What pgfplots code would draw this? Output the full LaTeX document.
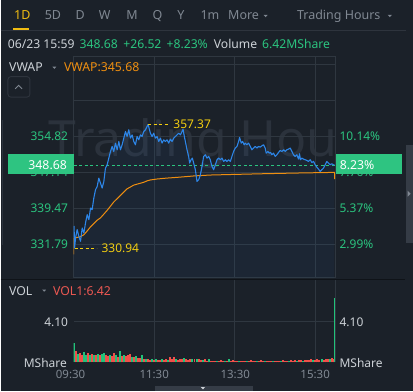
\documentclass[border=0pt]{standalone}
\usepackage{pgfplots}
\pgfplotsset{compat=1.18}
\usepackage{pgfplotstable}
\usepackage{fontspec}
\setmainfont{Noto Sans}
\definecolor{bg}{HTML}{1B2129}
\definecolor{gridc}{HTML}{2F3740}
\definecolor{sepc}{HTML}{2E343D}
\definecolor{darksep}{HTML}{0F1318}
\definecolor{lighttxt}{HTML}{CDD2D7}
\definecolor{greytxt}{HTML}{808892}
\definecolor{greenc}{HTML}{2BC47F}
\definecolor{greenbar}{HTML}{22C27A}
\definecolor{greenbox}{HTML}{2EC481}
\definecolor{redc}{HTML}{EC5852}
\definecolor{redbar}{HTML}{F0504A}
\definecolor{orangec}{HTML}{EE8E10}
\definecolor{yel}{HTML}{F2CD10}
\definecolor{ytab}{HTML}{F0BC12}
\definecolor{bluec}{HTML}{2D86E8}
\definecolor{wm}{HTML}{2B323C}
\definecolor{tabc}{HTML}{353C46}
\newcommand{\fs}[1]{\fontsize{#1}{#1}\selectfont}

\pgfplotstableread{
t p
0 333.5
0.8 335.6
1.5 330.94
3.0 333.11
5.4 334.88
7.9 333.46
10.4 332.39
12.9 335.24
15.4 334.17
17.8 336.30
20.3 338.08
22.8 337.01
25.3 339.50
27.7 339.15
30.2 341.64
32.7 343.41
35.2 344.12
37.6 345.90
40.1 344.83
42.6 343.77
45.1 345.19
47.5 348.03
50.0 348.74
52.5 350.16
55.0 351.59
57.4 352.65
59.9 351.59
62.4 353.36
64.9 351.94
67.4 353.72
69.8 351.94
72.3 353.01
74.8 354.43
77.3 355.85
79.7 354.78
82.2 356.21
84.7 354.43
87.2 355.14
89.6 353.72
92.1 353.01
94.6 354.78
97.1 354.07
99.5 355.14
102.0 354.78
104.5 355.85
107.0 356.21
109.4 356.92
110.9 357.37
114.4 355.49
116.9 354.78
119.3 355.49
121.8 354.43
124.3 354.78
126.8 353.72
129.3 354.43
131.7 353.36
134.2 354.07
136.7 353.72
139.2 354.07
141.6 353.36
144.1 354.22
146.6 353.72
149.1 354.43
151.5 354.78
154.0 355.14
156.5 355.49
159.0 355.14
161.4 355.85
162.9 356.35
164.9 354.78
166.9 353.36
168.9 351.94
171.3 350.52
172.8 349.10
174.8 349.81
176.8 350.16
178.8 349.10
181.3 347.68
183.7 345.19
186.2 345.54
188.7 346.61
191.2 348.39
193.6 350.52
196.1 350.88
198.6 350.16
201.1 350.52
203.5 349.81
206.0 348.39
208.5 347.68
211.0 348.74
213.5 349.81
215.9 350.16
218.4 349.81
220.9 350.16
223.4 349.45
225.8 349.81
228.3 349.45
230.8 349.81
233.3 349.45
235.7 350.52
238.2 351.59
240.7 352.30
243.2 352.65
245.6 353.72
247.1 354.57
249.6 353.36
251.6 353.72
254.0 353.01
255.5 353.36
258.0 353.01
260.5 353.36
263.0 352.65
265.4 351.94
267.9 352.30
270.4 352.65
272.9 352.30
275.3 352.65
277.8 352.51
280.3 352.79
282.8 353.01
285.2 352.30
286.7 351.23
289.2 351.59
291.2 351.23
293.2 351.37
295.1 350.88
297.6 351.23
300.1 350.52
302.6 350.88
305.0 351.37
307.5 351.80
310.0 351.59
312.5 351.94
315.0 351.59
317.4 351.94
319.9 352.08
322.4 352.30
324.9 351.59
327.3 350.88
329.8 350.52
332.3 350.88
334.8 349.95
336.3 351.09
337.7 349.81
339.7 350.16
342.2 349.95
344.7 349.81
347.2 349.67
349.6 349.45
352.1 349.81
354.6 349.24
357.1 349.45
359.5 348.74
362.0 348.24
364.5 347.82
367.0 347.32
369.4 347.68
371.9 348.03
374.4 348.74
376.9 349.45
379.3 349.10
381.8 348.74
384.3 348.96
386.8 348.74
388.3 348.68
}\pricetab

\pgfplotstableread{
t v
0 329.6
0.5 333.1
5 333.2
10.4 333.4
15.4 333.8
20.3 334.6
25.3 335.5
30.2 336.2
35.2 336.9
40.1 337.4
45.1 338.2
50.0 339.0
55.0 339.9
59.9 340.8
64.9 341.5
69.8 342.2
74.8 342.9
79.7 343.6
84.7 344.0
89.6 344.4
94.6 344.6
99.5 344.8
104.5 345.0
109.4 345.3
114.4 345.5
124.3 345.7
139.2 345.9
154.0 346.05
178.8 346.35
203.5 346.55
230.8 346.65
280.3 346.82
329.8 346.97
386.8 347.11
388.3 347.11
388.5 345.68
}\vwaptab

\pgfplotstableread{
t v
0 1.95
6 0.9
15 1.05
18 0.8
24 0.7
30 0.8
36 0.9
42 0.85
45 0.95
54 0.8
63 0.7
69 1.15
75 0.8
87 0.55
93 0.6
102 0.7
108 0.3
117 0.3
123 0.3
132 0.3
141 0.25
153 0.3
165 0.45
177 0.3
183 0.35
192 0.2
201 0.35
213 0.1
225 0.15
231 0.3
246 0.15
258 0.1
273 0.1
285 0.1
297 0.1
309 0.1
321 0.15
333 0.15
342 0.15
357 0.2
369 0.3
381 0.3
}\volup

\pgfplotstableread{
t v
3 1.2
9 1.0
12 0.75
21 0.95
27 0.85
33 0.75
39 0.7
48 0.75
51 0.6
57 0.65
60 1.0
66 0.55
72 0.65
78 0.6
81 0.7
84 0.9
90 0.5
96 0.45
99 0.4
105 0.35
111 0.35
114 0.25
120 0.25
126 0.2
129 0.25
135 0.2
138 0.3
144 0.5
147 0.3
150 0.55
156 0.25
159 0.35
162 0.3
168 0.3
171 0.25
174 0.35
180 0.3
186 0.3
189 0.25
195 0.3
198 0.15
204 0.15
207 0.1
210 0.15
216 0.15
219 0.2
222 0.1
228 0.1
234 0.15
237 0.2
240 0.1
243 0.1
249 0.1
252 0.1
255 0.15
261 0.1
264 0.2
267 0.1
270 0.15
276 0.15
279 0.2
282 0.1
288 0.15
291 0.1
294 0.15
300 0.15
303 0.1
306 0.15
312 0.2
315 0.15
318 0.1
324 0.2
327 0.15
330 0.2
336 0.2
339 0.25
345 0.2
348 0.25
351 0.2
354 0.3
360 0.25
363 0.3
366 0.2
372 0.25
375 0.3
378 0.35
384 0.4
387 0.35
}\voldown

\begin{document}
\begin{tikzpicture}[x=1pt,y=1pt]
% background
\fill[bg] (0,0) rectangle (413,392);

% top tab bar
\begin{scope}[every node/.style={anchor=base west, inner sep=0pt, font=\fs{12.5}, text=greytxt}]
\node[text=ytab] at (13.3,372) {1D};
\node at (44,372) {5D};
\node at (75,372) {D};
\node at (98.3,372) {W};
\node at (125.7,372) {M};
\node at (152,372) {Q};
\node at (176.7,372) {Y};
\node at (200,372) {1m};
\node at (227.7,372) {More};
\node at (296.7,372) {Trading Hours};
\end{scope}
\fill[greytxt] (263.3,377.2) -- (267.5,377.2) -- (265.4,374.8) -- cycle;
\fill[greytxt] (387.7,377.2) -- (391.9,377.2) -- (389.8,374.8) -- cycle;
\fill[ytab] (12,362.3) rectangle (28,364);
\draw[sepc, line width=0.8pt] (0,361.3) -- (406,361.3);

% info line
\begin{scope}[every node/.style={anchor=base west, inner sep=0pt, font=\fs{12.2}}]
\node[text=lighttxt] at (7,343.3) {06/23 15:59};
\node[text=greenc] at (79,343.3) {348.68};
\node[text=greenc] at (122.7,343.3) {+26.52};
\node[text=greenc] at (166,343.3) {+8.23\%};
\node[text=lighttxt] at (213.3,343.3) {Volume};
\node[text=greenc] at (261.7,343.3) {6.42MShare};
\end{scope}

% watermark
\begin{scope}
\clip (0,0) rectangle (336,392);
\node[anchor=base west, inner sep=0pt, font=\fs{50}, text=wm] at (48,235) {Trading Hours};
\end{scope}

% left edge strip
\draw[wm, line width=1.2pt] (1.5,147) -- (1.5,272);

% main price chart
\begin{axis}[
  at={(73pt,114pt)}, anchor=south west, scale only axis,
  width=262.5pt, height=221.3pt,
  xmin=0, xmax=390, ymin=324.65, ymax=371.84,
  xtick={120,240,360},
  ytick={331.79,339.47,347.14,354.82,362.50,370.17},
  xticklabels={}, yticklabels={}, major tick length=0pt,
  grid=major, major grid style={draw=gridc, line width=0.8pt},
  axis line style={draw=gridc, line width=0.8pt},
  no markers,
]
\addplot[draw=none, fill=bluec, fill opacity=0.06] table[x=t,y=p] {\pricetab} \closedcycle;
\addplot[greenc, dash pattern=on 3pt off 2.5pt, line width=0.9pt] coordinates {(0,348.68) (390,348.68)};
\addplot[orangec, line width=1pt] table[x=t,y=v] {\vwaptab};
\addplot[bluec, line width=1.1pt, line join=round] table[x=t,y=p] {\pricetab};
\draw[yel, dash pattern=on 3pt off 2.5pt, line width=0.8pt] (axis cs:110.9,357.37) -- ++(20pt,0pt)
  node[anchor=west, inner sep=0pt, xshift=5pt, text=yel, font=\fs{12}] {357.37};
\draw[yel, dash pattern=on 3pt off 2.5pt, line width=0.8pt] (axis cs:1.5,330.94) -- ++(22pt,0pt)
  node[anchor=west, inner sep=0pt, xshift=4.7pt, text=yel, font=\fs{12}] {330.94};
\end{axis}

% VWAP row
\node[anchor=base west, inner sep=0pt, font=\fs{12.3}, text=lighttxt] at (8.3,320.3) {VWAP};
\fill[greytxt] (51.8,325.3) -- (55.8,325.3) -- (53.8,323) -- cycle;
\node[anchor=base west, inner sep=0pt, font=\fs{12.3}, text=orangec] at (63.3,320.3) {VWAP:345.68};
\draw[sepc, line width=0.9pt, rounded corners=3pt] (7.3,294.7) rectangle (29.3,315.3);
\draw[greytxt, line width=0.9pt] (14.5,303) -- (18,306.5) -- (21.5,303);

% price labels
\begin{scope}[every node/.style={inner sep=0pt, font=\fs{12}, text=greenc}]
\node[anchor=base east] at (67.7,251.2) {354.82};
\node[anchor=base east] at (67.7,215.7) {347.14};
\node[anchor=base east] at (67.7,179.2) {339.47};
\node[anchor=base east] at (67.7,143.2) {331.79};
\node[anchor=base west] at (339.3,251.2) {10.14\%};
\node[anchor=base west] at (339.3,215.7) {7.76\%};
\node[anchor=base west] at (339.3,179.2) {5.37\%};
\node[anchor=base west] at (339.3,143.2) {2.99\%};
\end{scope}
\fill[greenbox] (7,218) rectangle (73,238);
\fill[greenbox] (336,218) rectangle (402,238);
\node[anchor=base east, inner sep=0pt, font=\fs{12.3}, text=white] at (66.5,222.7) {348.68};
\node[anchor=base west, inner sep=0pt, font=\fs{12.3}, text=white] at (339.5,222.7) {8.23\%};

% right scroll tab
\fill[tabc] (405.7,149) rectangle (413,247);
\fill[greytxt] (407.6,201) -- (407.6,195) -- (410.6,198) -- cycle;

% separator
\draw[darksep, line width=1.3pt] (0,112) -- (405,112);

% volume chart
\begin{axis}[
  at={(73pt,29pt)}, anchor=south west, scale only axis,
  width=262.5pt, height=83pt,
  xmin=0, xmax=390, ymin=0, ymax=8.36,
  xtick={120,240,360,390}, ytick={4.10},
  xticklabels={}, yticklabels={}, major tick length=0pt,
  grid=major, major grid style={draw=gridc, line width=0.8pt},
  axis line style={draw=none},
  no markers,
]
\addplot[ycomb, redbar, line width=2pt] table[x=t,y=v] {\voldown};
\addplot[ycomb, greenbar, line width=2pt] table[x=t,y=v] {\volup};
\addplot[ycomb, greenbar, line width=1.2pt] coordinates {(388.8,6.5)};
\end{axis}

% volume labels
\node[anchor=base west, inner sep=0pt, font=\fs{12.3}, text=lighttxt] at (8.3,96.3) {VOL};
\fill[greytxt] (41.6,102) -- (45.6,102) -- (43.6,99.8) -- cycle;
\node[anchor=base west, inner sep=0pt, font=\fs{12.3}, text=redc] at (52.3,96.3) {VOL1:6.42};
\begin{scope}[every node/.style={inner sep=0pt, font=\fs{12}, text=lighttxt}]
\node[anchor=base east] at (67.7,65.3) {4.10};
\node[anchor=base west] at (339.3,65.3) {4.10};
\node[anchor=base east] at (66.5,23.7) {MShare};
\node[anchor=base west] at (339.3,23.7) {MShare};
\end{scope}
\begin{scope}[every node/.style={anchor=base, inner sep=0pt, font=\fs{11.5}, text=greytxt}]
\node at (70,13) {09:30};
\node at (153.8,13) {11:30};
\node at (235,13) {13:30};
\node at (315,13) {15:30};
\end{scope}

% bottom tab
\fill[tabc] (155,0) rectangle (253,5);
\fill[lighttxt] (200.5,4.3) -- (204.7,4.3) -- (202.6,2) -- cycle;
\end{tikzpicture}
\end{document}
